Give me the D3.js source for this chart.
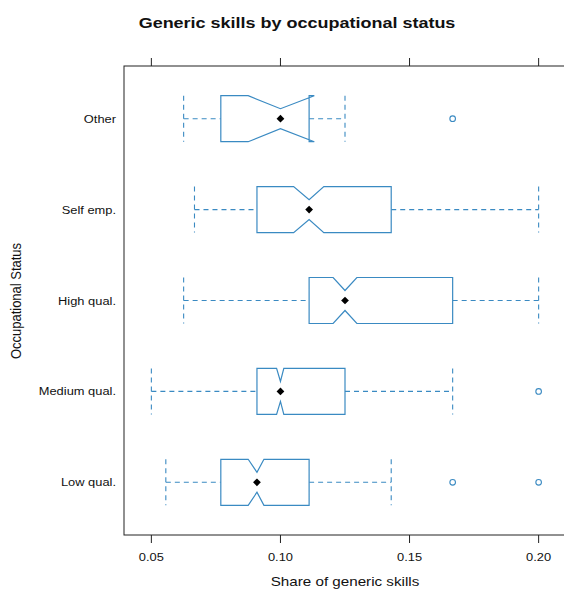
<!DOCTYPE html>
<html lang="en">
<head>
  <meta charset="utf-8">
  <title>Generic skills by occupational status</title>
  <script src="https://d3js.org/d3.v7.min.js"></script>
  <style>
    body { margin: 0; background: #fff; }
    text { font-family: "Liberation Sans", Arial, sans-serif; fill: #111; }
  </style>
</head>
<body>
  <div id="chart"></div>
  <script>
    // data, bottom row first
    var groups = ["Low qual.", "Medium qual.", "High qual.", "Self emp.", "Other"];
    var whiskerLo = [0.0556, 0.05, 0.0625, 0.0667, 0.0625];
    var q1 = [0.0769, 0.0909, 0.1111, 0.0909, 0.0769];
    var notchLo = [0.0875, 0.0985, 0.1204, 0.1051, 0.0875];
    var medians = [0.0909, 0.10, 0.125, 0.1111, 0.10];
    var notchHi = [0.0936, 0.1013, 0.1296, 0.1168, 0.1131];
    var q3 = [0.1111, 0.125, 0.1667, 0.1429, 0.1111];
    var whiskerHi = [0.1429, 0.1667, 0.20, 0.20, 0.125];
    var outliers = [[0.1667, 0.20], [0.20], [], [], [0.1667]];
    var xTicks = [0.05, 0.10, 0.15, 0.20];

    var w = 564, h = 590;
    // plot frame (right edge runs a little past the window, as in the source)
    var pLeft = 124, pRight = 566, pTop = 66, pBottom = 535;
    var blue = "#3a8ac2";
    var stretch = 1.17; // source text is a bit wide

    var svg = d3.select("#chart").append("svg")
      .attr("width", w)
      .attr("height", h);

    var x = d3.scaleLinear().domain([0.0394, 0.2106]).range([pLeft, pRight]);
    var y = d3.scaleLinear().domain([0.42, 5.58]).range([pBottom, pTop]);

    var boxH = 23;   // half height of box
    var notchH = 10; // half height at the median

    // frame
    svg.append("rect")
      .attr("x", pLeft).attr("y", pTop)
      .attr("width", pRight - pLeft).attr("height", pBottom - pTop)
      .attr("fill", "none")
      .attr("stroke", "#222")
      .attr("stroke-width", 1);

    // ticks top and bottom
    xTicks.forEach(function (t) {
      svg.append("line")
        .attr("x1", x(t)).attr("x2", x(t))
        .attr("y1", pTop).attr("y2", pTop - 8)
        .attr("stroke", "#222");
      svg.append("line")
        .attr("x1", x(t)).attr("x2", x(t))
        .attr("y1", pBottom).attr("y2", pBottom + 8)
        .attr("stroke", "#222");
      svg.append("g")
        .attr("transform", "translate(" + x(t) + ",561) scale(" + stretch + ",1)")
        .append("text")
        .attr("text-anchor", "middle")
        .style("font-size", "11px")
        .text(d3.format(".2f")(t));
    });

    var rows = svg.append("g").selectAll("g")
      .data(groups)
      .enter()
      .append("g");

    rows.each(function (name, i) {
      var g = d3.select(this);
      var cy = y(i + 1);

      // category label
      g.append("g")
        .attr("transform", "translate(116," + (cy + 4) + ") scale(" + stretch + ",1)")
        .append("text")
        .attr("text-anchor", "end")
        .style("font-size", "11px")
        .text(name);

      // whiskers
      [[whiskerLo[i], q1[i]], [q3[i], whiskerHi[i]]].forEach(function (seg) {
        g.append("line")
          .attr("x1", x(seg[0])).attr("x2", x(seg[1]))
          .attr("y1", cy).attr("y2", cy)
          .attr("stroke", blue)
          .attr("stroke-width", 1.1)
          .attr("stroke-dasharray", "5,4");
      });
      [whiskerLo[i], whiskerHi[i]].forEach(function (v) {
        g.append("line")
          .attr("x1", x(v)).attr("x2", x(v))
          .attr("y1", cy - boxH).attr("y2", cy + boxH)
          .attr("stroke", blue)
          .attr("stroke-width", 1.1)
          .attr("stroke-dasharray", "5,4");
      });

      // notched box
      var pts = [
        [x(q1[i]), cy - boxH],
        [x(notchLo[i]), cy - boxH],
        [x(medians[i]), cy - notchH],
        [x(notchHi[i]), cy - boxH],
        [x(q3[i]), cy - boxH],
        [x(q3[i]), cy + boxH],
        [x(notchHi[i]), cy + boxH],
        [x(medians[i]), cy + notchH],
        [x(notchLo[i]), cy + boxH],
        [x(q1[i]), cy + boxH]
      ];
      g.append("path")
        .attr("d", d3.line()(pts) + "Z")
        .attr("fill", "white")
        .attr("stroke", blue)
        .attr("stroke-width", 1.2);

      // median dot
      g.append("path")
        .attr("d", d3.symbol(d3.symbolSquare, 30)())
        .attr("transform", "translate(" + x(medians[i]) + "," + cy + ") rotate(45)")
        .attr("fill", "#000");

      // outliers
      outliers[i].forEach(function (v) {
        g.append("circle")
          .attr("cx", x(v)).attr("cy", cy)
          .attr("r", 2.8)
          .attr("fill", "none")
          .attr("stroke", blue)
          .attr("stroke-width", 1.1);
      });
    });

    // title
    svg.append("g")
      .attr("transform", "translate(297,28) scale(1.2,1)")
      .append("text")
      .attr("text-anchor", "middle")
      .style("font-size", "15px")
      .style("font-weight", "bold")
      .text("Generic skills by occupational status");

    // axis titles
    svg.append("g")
      .attr("transform", "translate(345,586) scale(" + stretch + ",1)")
      .append("text")
      .attr("text-anchor", "middle")
      .style("font-size", "13px")
      .text("Share of generic skills");

    svg.append("g")
      .attr("transform", "translate(21,301) scale(" + stretch + ",1) rotate(-90)")
      .append("text")
      .attr("text-anchor", "middle")
      .style("font-size", "13px")
      .text("Occupational Status");
  </script>
</body>
</html>
